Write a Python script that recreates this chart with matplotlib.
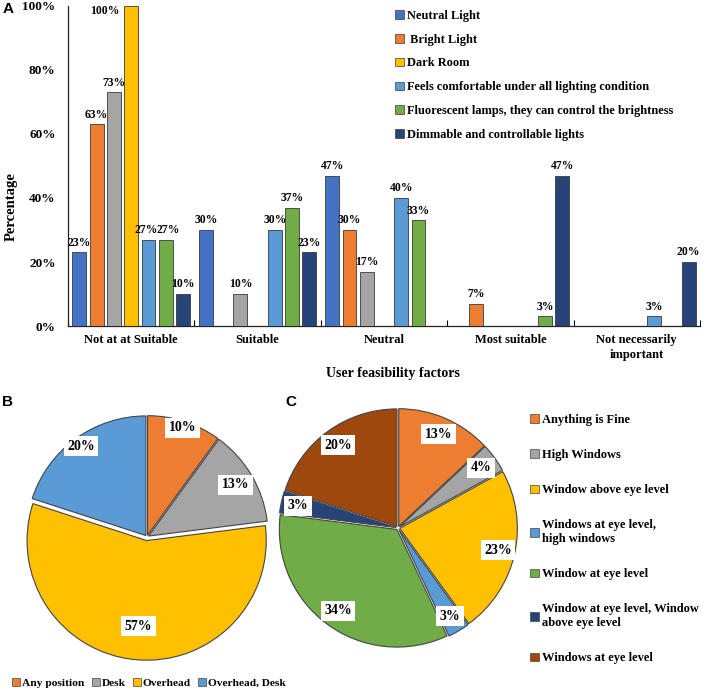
import matplotlib
matplotlib.use('Agg')
import matplotlib.pyplot as plt
import numpy as np
from matplotlib.patches import Patch

plt.rcParams['font.family'] = ['Liberation Serif', 'DejaVu Serif']
plt.rcParams['font.weight'] = 'bold'

# ---------------- data ----------------
categories = ["Not at at Suitable", "Suitable", "Neutral", "Most suitable",
              "Not necessarily\nimportant"]
series_names = ["Neutral Light", " Bright Light", "", "Dark Room",
                "Feels comfortable under all lighting condition",
                "Fluorescent lamps, they can control the brightness",
                "Dimmable and controllable lights"]
neutral_light = [23, 30, 47, 0, 0]
bright_light = [63, 0, 30, 7, 0]
unnamed_gray = [73, 10, 17, 0, 0]
dark_room = [100, 0, 0, 0, 0]
feels_comfortable = [27, 30, 40, 0, 3]
fluorescent = [27, 37, 33, 3, 0]
dimmable = [10, 23, 0, 47, 20]
bar_series = [neutral_light, bright_light, unnamed_gray, dark_room,
              feels_comfortable, fluorescent, dimmable]
bar_colors = ["#4472C4", "#ED7D31", "#A5A5A5", "#FFC000", "#5B9BD5", "#70AD47", "#264478"]
yticks = [0, 20, 40, 60, 80, 100]

pie_b_labels = ["Any position", "Desk", "Overhead", "Overhead, Desk"]
pie_b_values = [10, 13, 57, 20]
pie_b_colors = ["#ED7D31", "#A5A5A5", "#FFC000", "#5B9BD5"]

pie_c_labels = ["Anything is Fine", "High Windows", "Window above eye level",
                "Windows at eye level,\nhigh windows", "Window at eye level",
                "Window at eye level, Window\nabove eye level", "Windows at eye level"]
pie_c_values = [13, 4, 23, 3, 34, 3, 20]
pie_c_colors = ["#ED7D31", "#A5A5A5", "#FFC000", "#5B9BD5", "#70AD47", "#264478", "#9E480E"]

W, H = 708, 696
fig = plt.figure(figsize=(W / 100, H / 100), dpi=100)

def fx(px):
    return px / W

def fy(py):
    return 1 - py / H

# ---------------- Panel A: bars ----------------
ax = fig.add_axes([fx(68), fy(326), fx(700) - fx(68), fy(6) - fy(326)])
x = np.arange(len(categories))
step = 0.1365
width = 0.11
n = len(bar_series)
for i, (vals, col) in enumerate(zip(bar_series, bar_colors)):
    pos = x + (i - (n - 1) / 2) * step
    ax.bar(pos, vals, width=width, color=col, edgecolor="#3a3a3a", linewidth=0.6, zorder=3)
    for j, (p, v) in enumerate(zip(pos, vals)):
        if v <= 0:
            continue
        shift = 0.0
        if i > 0 and bar_series[i - 1][j] == v:
            shift += 0.02
        if i < n - 1 and bar_series[i + 1][j] == v:
            shift -= 0.02
        if v >= 95:
            ax.text(p - 0.21, v - 1.5, f"{v}%", ha="center", va="center", fontsize=8.4, fontweight="bold")
        else:
            ax.text(p + shift, v + 1.2, f"{v}%", ha="center", va="bottom", fontsize=8.4, fontweight="bold")

ax.set_xlim(-0.5, len(categories) - 0.5)
ax.set_ylim(0, 100)
ax.set_yticks(yticks)
ax.set_yticklabels([f"{t}%" for t in yticks], fontsize=9.5, fontweight="bold")
ax.tick_params(axis="y", length=0, pad=9)
ax.set_xticks(x)
ax.set_xticklabels(categories, fontsize=9, fontweight="bold", linespacing=1.3)
ax.tick_params(axis="x", which="major", length=0, pad=6)
ax.set_xticks(np.arange(-0.5, len(categories) + 0.5, 1.0), minor=True)
ax.tick_params(axis="x", which="minor", direction="in", length=4, width=0.8)
for s in ["top", "right"]:
    ax.spines[s].set_visible(False)
for s in ["left", "bottom"]:
    ax.spines[s].set_linewidth(0.9)
    ax.spines[s].set_color("#222222")
ax.set_ylabel("Percentage", fontsize=10.5, fontweight="bold")
ax.yaxis.set_label_coords((18 - 68) / 632, (326 - 207) / 320)
ax.set_xlabel("User feasibility factors", fontsize=10, fontweight="bold")
ax.xaxis.set_label_coords((393 - 68) / 632, (326 - 367) / 320)

handles = [Patch(facecolor=c, edgecolor="#3a3a3a", linewidth=0.5)
           for c, nme in zip(bar_colors, series_names) if nme]
labels = [nme for nme in series_names if nme]
fig.legend(handles, labels, loc="upper left", bbox_to_anchor=(fx(395), fy(10)),
           frameon=False, fontsize=8.9, handlelength=0.7, handleheight=0.7,
           handletextpad=0.3, labelspacing=0.95, borderaxespad=0, borderpad=0)

# ---------------- Panel B: pie ----------------
axb = fig.add_axes([fx(25), fy(659), fx(244), 244 / H])
axb.pie(pie_b_values, colors=pie_b_colors, startangle=90, counterclock=False,
        explode=[0.015, 0.015, 0.03, 0.015],
        wedgeprops=dict(edgecolor="#444444", linewidth=0.8))
axb.set_xlim(-1.02, 1.02)
axb.set_ylim(-1.02, 1.02)
axb.set_aspect("equal")
b_dist = [0.96, 0.86, 0.75, 0.94]
cum = 0
for v, d in zip(pie_b_values, b_dist):
    ang = np.deg2rad(90 - (cum + v / 2) * 3.6)
    cum += v
    axb.text(d * np.cos(ang), d * np.sin(ang), f"{v}%", ha="center", va="center",
             fontsize=10, fontweight="bold",
             bbox=dict(boxstyle="square,pad=0.25", facecolor="white", edgecolor="none"))
fig.legend([Patch(facecolor=c, edgecolor="#444444", linewidth=0.5) for c in pie_b_colors],
           pie_b_labels, loc="center", bbox_to_anchor=(fx(149), fy(683)), ncol=4,
           frameon=False, fontsize=8.2, handlelength=0.7, handleheight=0.7,
           handletextpad=0.2, columnspacing=0.6, borderaxespad=0, borderpad=0)

# ---------------- Panel C: pie ----------------
axc = fig.add_axes([fx(278), fy(648), fx(240), 240 / H])
axc.pie(pie_c_values, colors=pie_c_colors, startangle=90, counterclock=False,
        explode=[0.015] * len(pie_c_values),
        wedgeprops=dict(edgecolor="#444444", linewidth=0.8))
axc.set_xlim(-1.02, 1.02)
axc.set_ylim(-1.02, 1.02)
axc.set_aspect("equal")
cum = 0
for v in pie_c_values:
    ang = np.deg2rad(90 - (cum + v / 2) * 3.6)
    cum += v
    axc.text(0.87 * np.cos(ang), 0.87 * np.sin(ang), f"{v}%", ha="center", va="center",
             fontsize=10, fontweight="bold",
             bbox=dict(boxstyle="square,pad=0.25", facecolor="white", edgecolor="none"))
fig.legend([Patch(facecolor=c, edgecolor="#444444", linewidth=0.5) for c in pie_c_colors],
           pie_c_labels, loc="upper left", bbox_to_anchor=(fx(530), fy(414)),
           frameon=False, fontsize=9, handlelength=0.7, handleheight=0.7,
           handletextpad=0.3, labelspacing=1.85, borderaxespad=0, borderpad=0)

# ---------------- panel letters ----------------
for letter, px, py in [("A", 8, 9), ("B", 7, 402), ("C", 291, 402)]:
    fig.text(fx(px), fy(py), letter, ha="center", va="center", fontsize=11,
             fontweight="bold", family=["Liberation Sans", "DejaVu Sans"])

fig.savefig("out.png", dpi=100)
